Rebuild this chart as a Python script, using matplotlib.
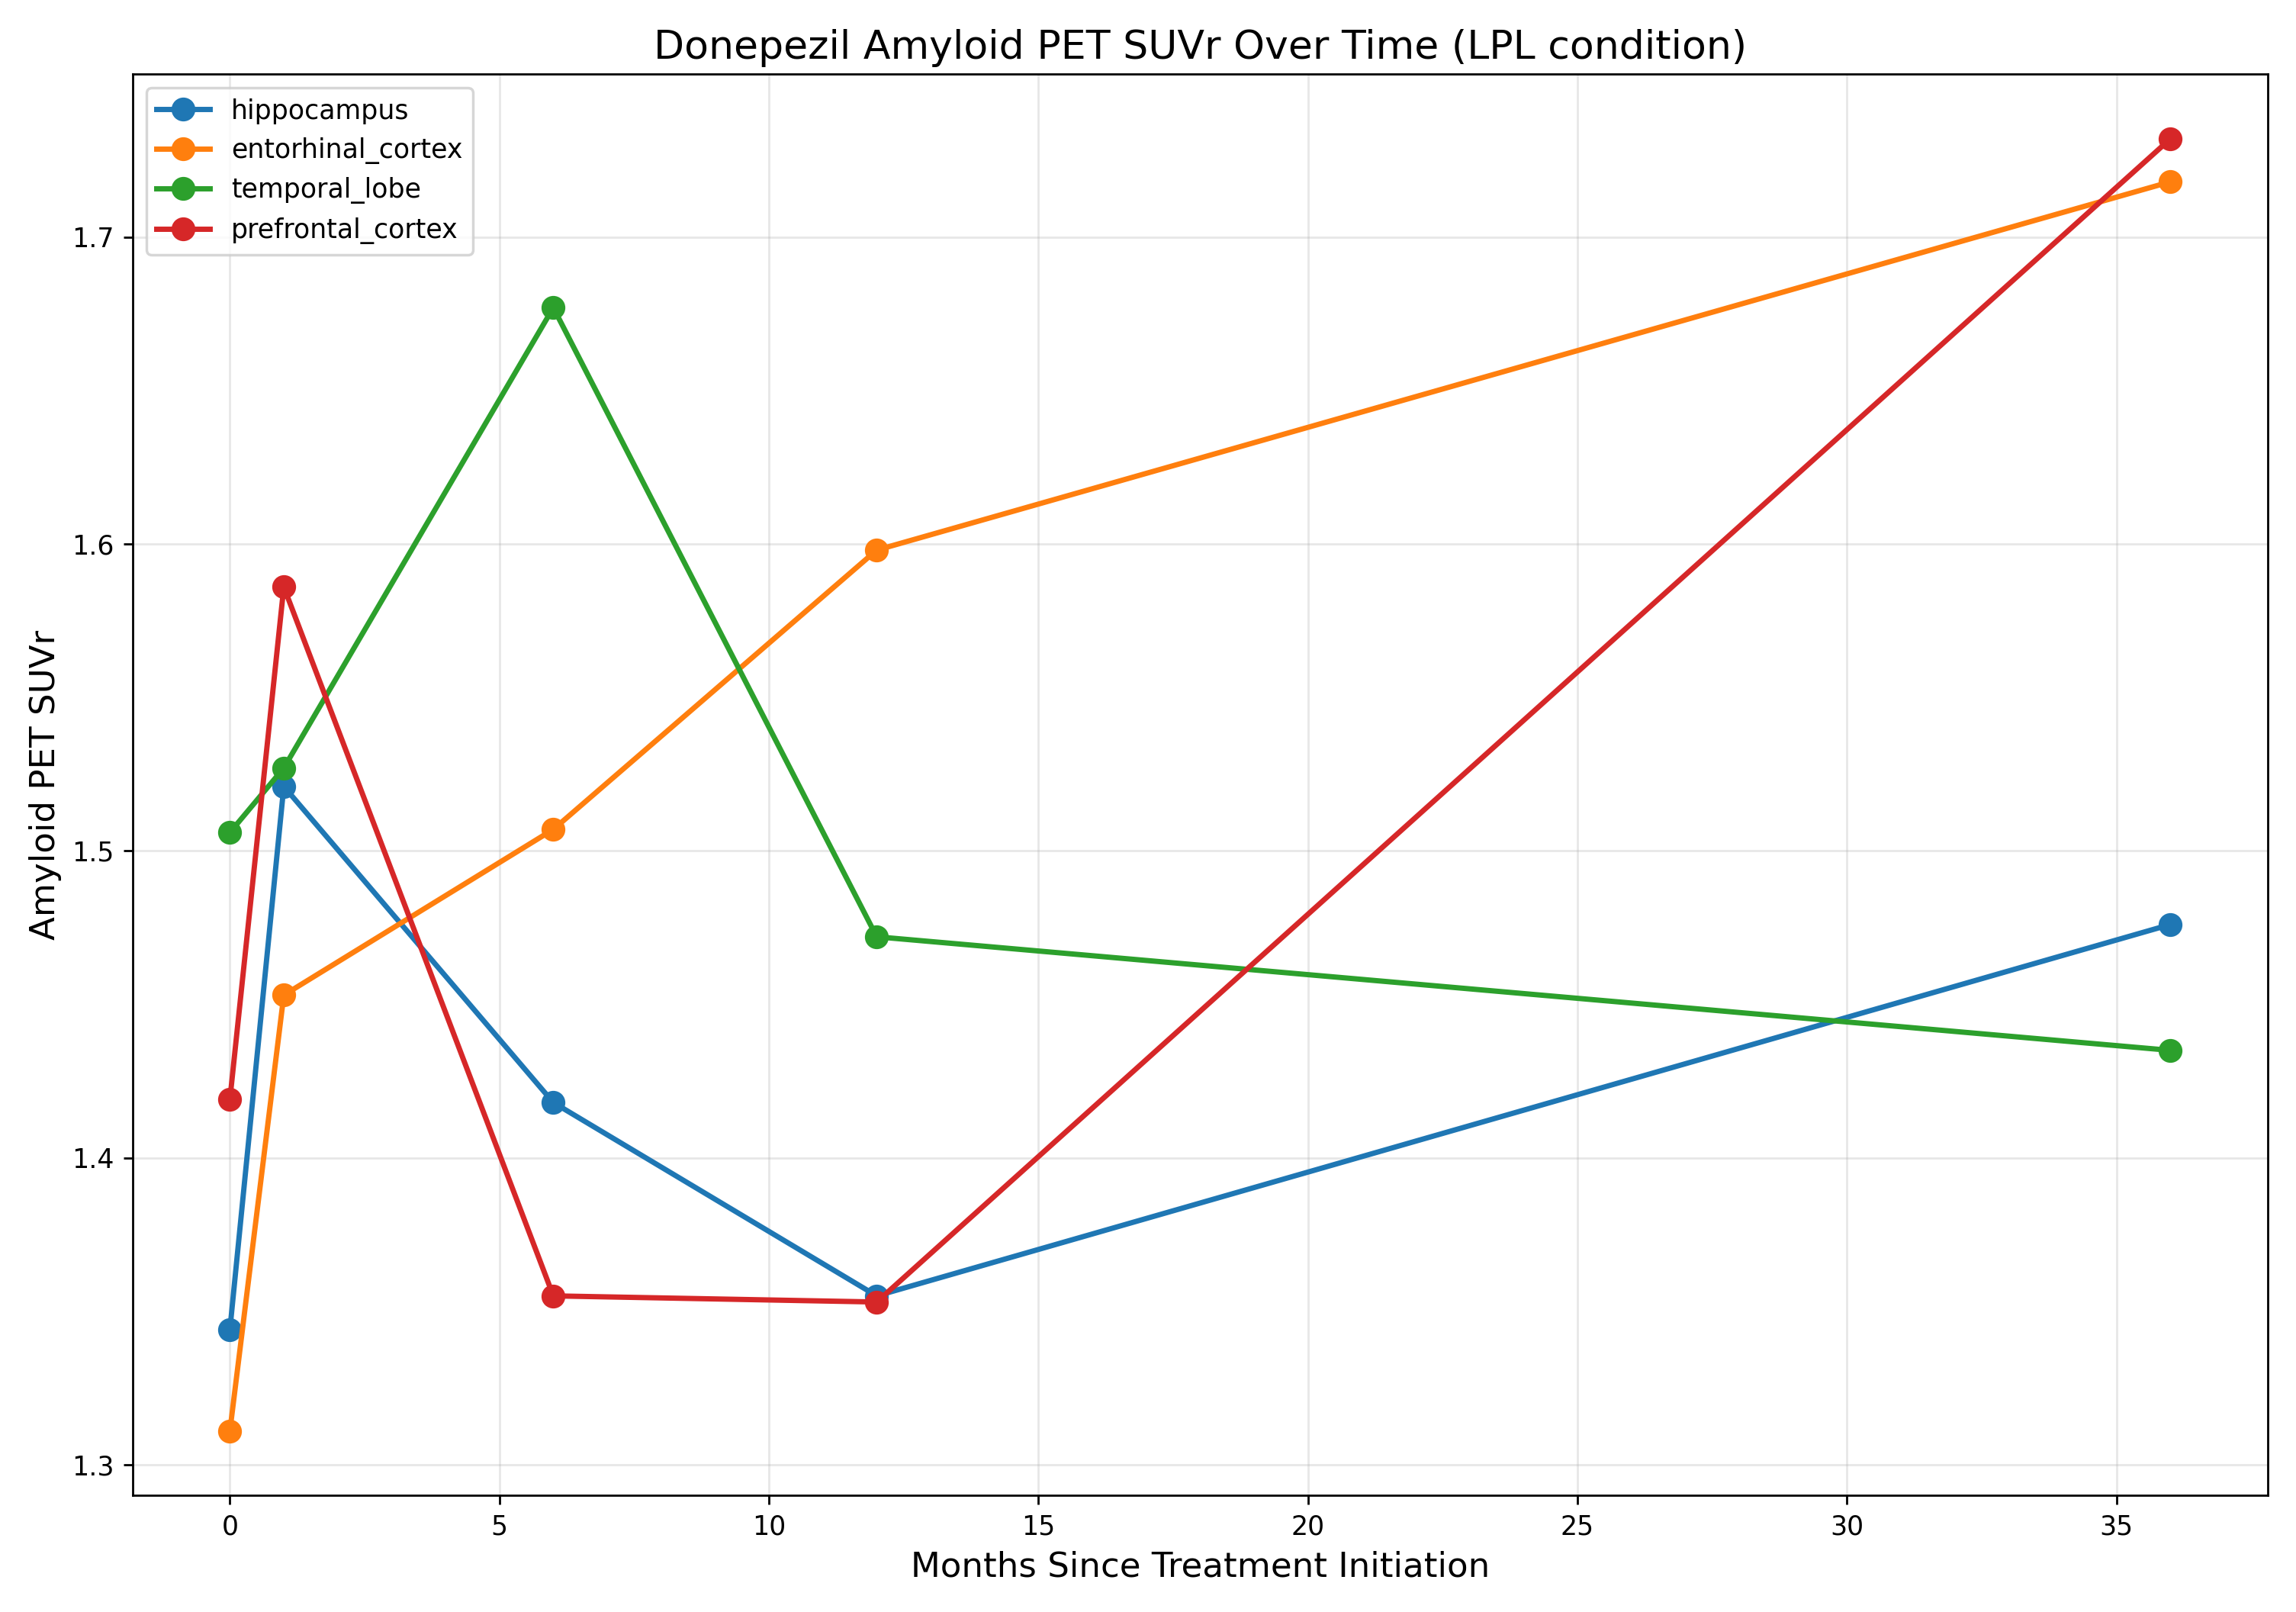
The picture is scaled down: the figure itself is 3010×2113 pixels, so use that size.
import matplotlib
matplotlib.use("Agg")
import matplotlib.pyplot as plt

months = [0, 1, 6, 12, 36]
hippocampus = [1.344, 1.521, 1.418, 1.355, 1.476]
entorhinal_cortex = [1.311, 1.453, 1.507, 1.598, 1.718]
temporal_lobe = [1.506, 1.527, 1.677, 1.472, 1.435]
prefrontal_cortex = [1.419, 1.586, 1.355, 1.353, 1.732]

fig, ax = plt.subplots(figsize=(12.04, 8.452), dpi=250)
ax.plot(months, hippocampus, marker="o", lw=2, ms=8, label="hippocampus")
ax.plot(months, entorhinal_cortex, marker="o", lw=2, ms=8, label="entorhinal_cortex")
ax.plot(months, temporal_lobe, marker="o", lw=2, ms=8, label="temporal_lobe")
ax.plot(months, prefrontal_cortex, marker="o", lw=2, ms=8, label="prefrontal_cortex")

ax.set_title("Donepezil Amyloid PET SUVr Over Time (LPL condition)", fontsize=15)
ax.set_xlabel("Months Since Treatment Initiation", fontsize=13)
ax.set_ylabel("Amyloid PET SUVr", fontsize=13)
ax.set_yticks([1.3, 1.4, 1.5, 1.6, 1.7])
ax.grid(True, alpha=0.3)
ax.legend(loc="upper left")
plt.tight_layout()
plt.savefig("out.png")
